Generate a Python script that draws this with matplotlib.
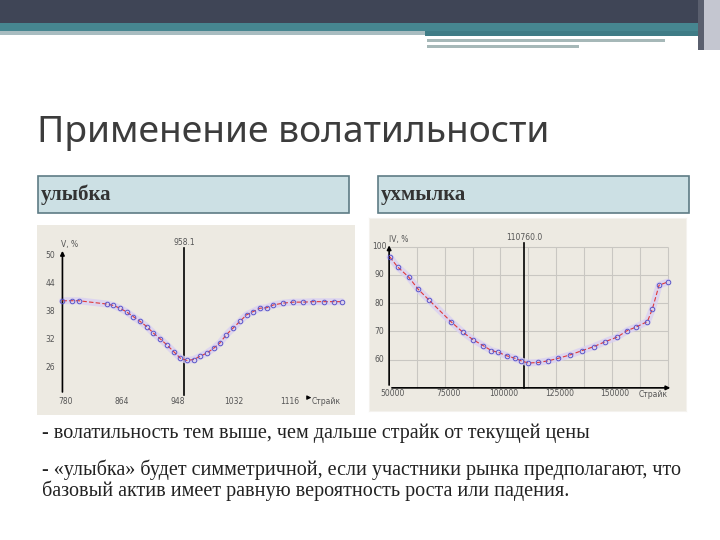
import matplotlib
matplotlib.use("Agg")
import matplotlib.pyplot as plt
from matplotlib.patches import Rectangle

# ---- data: "smile" (left chart)
smile_strike = [776, 790, 800, 842, 852, 862, 872, 882, 892, 902, 912, 922, 932, 942,
                952, 962, 972, 982, 992, 1002, 1011, 1021, 1031, 1041, 1051, 1061,
                1071, 1081, 1091, 1106, 1121, 1136, 1151, 1166, 1181, 1193]
smile_vol = [40.3, 40.3, 40.3, 39.6, 39.3, 38.7, 37.9, 36.9, 35.9, 34.8, 33.4, 32.2,
             30.9, 29.5, 28.1, 27.6, 27.8, 28.5, 29.2, 30.2, 31.3, 33.1, 34.5, 35.9,
             37.3, 38.0, 38.7, 38.8, 39.4, 39.8, 40.0, 40.0, 40.1, 40.1, 40.1, 40.1]
smile_xticks = [780, 864, 948, 1032, 1116]
smile_yticks = [50, 44, 38, 32, 26]
smile_spot = 958.1

# ---- data: "smirk" (right chart)
smirk_strike = [50300, 53765, 58735, 63100, 68070, 77700, 83130, 87650, 92170, 95930,
                98950, 102700, 106480, 109190, 112500, 117000, 121540, 126000, 131300,
                136600, 141860, 147100, 152400, 156900, 160700, 165960, 168200, 171200,
                175000]
smirk_vol = [96.4, 92.9, 89.3, 84.9, 81.0, 73.5, 69.7, 67.1, 65.0, 63.2, 62.6, 61.4,
             60.5, 59.6, 58.8, 59.0, 59.6, 60.5, 61.7, 63.2, 64.6, 66.4, 68.0, 70.3,
             71.5, 73.5, 78.0, 86.4, 87.5]
smirk_xticks = [50000, 75000, 100000, 125000, 150000]
smirk_yticks = [100, 90, 80, 70, 60]
smirk_spot = 110760.0

TITLE = "Применение волатильности"
HEAD_LEFT = "улыбка"
HEAD_RIGHT = "ухмылка"
NOTES = ["- волатильность тем выше, чем дальше страйк от текущей цены",
         "- «улыбка» будет симметричной, если участники рынка предполагают, что",
         "базовый актив имеет равную вероятность роста или падения."]

BEIGE = "#EDEAE2"
SMALL = dict(fontsize=5.5, color="#555555", family="DejaVu Sans")

fig = plt.figure(figsize=(7.2, 5.4), dpi=100)
fig.patch.set_facecolor("white")


def px_axes(x0, y0, x1, y1, z=1):
    return fig.add_axes([x0 / 720, 1 - y1 / 540, (x1 - x0) / 720, (y1 - y0) / 540], zorder=z)


# slide background and decorations
bg = px_axes(0, 0, 720, 540, z=0)
bg.set_xlim(0, 720)
bg.set_ylim(540, 0)
bg.axis("off")
bg.add_patch(Rectangle((0, 0), 720, 23, fc="#3F4556", ec="none"))
bg.add_patch(Rectangle((0, 23), 720, 8, fc="#468690", ec="none"))
bg.add_patch(Rectangle((0, 31), 425, 4, fc="#A8BCC0", ec="none"))
bg.add_patch(Rectangle((425, 31), 280, 5, fc="#3F7C86", ec="none"))
bg.add_patch(Rectangle((427, 39), 238, 3, fc="#A6B8B8", ec="none"))
bg.add_patch(Rectangle((427, 45), 152, 3, fc="#A6B8B8", ec="none"))
bg.add_patch(Rectangle((698, 0), 6, 50, fc="#5A5F6E", ec="none"))
bg.add_patch(Rectangle((704, 0), 16, 50, fc="#C4C6D0", ec="none"))

bg.text(37, 133, TITLE, fontsize=26.8, color="#3C3C3C", family="Noto Sans", va="center")

for x0, label in [(38, HEAD_LEFT), (378, HEAD_RIGHT)]:
    bg.add_patch(Rectangle((x0, 176), 311, 37, fc="#CCE0E4", ec="#5E7C85", lw=1.2))
    bg.text(x0 + 3, 195, label, fontsize=15, fontweight="bold", color="#333333",
            family="Liberation Serif", va="center")

for y, line in zip([433, 470, 491], NOTES):
    bg.text(42, y, line, fontsize=14.5, color="#222222", family="Liberation Serif", va="center")


def draw_curve(ax, xs, ys):
    ax.plot(xs, ys, color="#D9D0F2", lw=5, alpha=0.8, solid_capstyle="round", zorder=2)
    ax.plot(xs, ys, color="#E03A3A", lw=0.8, ls=(0, (4, 2)), zorder=3)
    ax.plot(xs, ys, ls="none", marker="o", ms=3.3, mfc="none", mec="#5A56C8", mew=0.7, zorder=4)


# ---- left chart
axl = px_axes(37, 225, 355, 415)
axl.set_facecolor(BEIGE)
axl.set_xlim(738, 1213)
axl.set_ylim(16.0, 56.4)
axl.set_xticks([])
axl.set_yticks([])
for s in axl.spines.values():
    s.set_visible(False)
axl.annotate("", xy=(776, 51.5), xytext=(776, 20.3),
             arrowprops=dict(arrowstyle="-|>", color="black", lw=1.2, mutation_scale=6))
axl.plot([smile_spot, smile_spot], [20.3, 51.6], color="black", lw=1.2)
axl.text(smile_spot, 52.6, f"{smile_spot:.1f}", ha="center", va="center", **SMALL)
draw_curve(axl, smile_strike, smile_vol)
for t in smile_xticks:
    axl.text(t, 18.8, str(t), ha="center", va="center", **SMALL)
for t in smile_yticks:
    axl.text(758, t, str(t), ha="center", va="center", **SMALL)
axl.text(786, 52.2, "V, %", ha="center", va="center", **SMALL)
axl.annotate("", xy=(1152, 19.7), xytext=(1138, 19.7),
             arrowprops=dict(arrowstyle="-|>", color="black", lw=0.8, mutation_scale=6))
axl.text(1170, 18.8, "Страйк", ha="center", va="center", **SMALL)

# ---- right chart
axr = px_axes(369, 218, 686, 411)
axr.set_facecolor(BEIGE)
axr.set_xlim(40964, 183285)
axr.set_ylim(41.8, 110.2)
axr.set_xticks([])
axr.set_yticks([])
for s in axr.spines.values():
    s.set_color("#F4F2EE")
grid_x = [50000 + 12500 * i for i in range(1, 11)]
grid_y = [60, 70, 80, 90, 100]
axr.vlines(grid_x, 50, 100, color="#C9C7C2", lw=0.8, zorder=1)
axr.hlines(grid_y, 50000, 175000, color="#C9C7C2", lw=0.8, zorder=1)
axr.annotate("", xy=(50000, 101.5), xytext=(50000, 50),
             arrowprops=dict(arrowstyle="-|>", color="black", lw=1.2, mutation_scale=6))
axr.annotate("", xy=(177500, 50), xytext=(50000, 50),
             arrowprops=dict(arrowstyle="-|>", color="black", lw=1.2, mutation_scale=6))
axr.plot([smirk_spot, smirk_spot], [50, 101.3], color="black", lw=1.2, zorder=2)
axr.text(smirk_spot, 103.2, f"{smirk_spot:.1f}", ha="center", va="center", **SMALL)
draw_curve(axr, smirk_strike, smirk_vol)
for t in smirk_xticks:
    axr.text(t + 1500, 48.0, str(t), ha="center", va="center", **SMALL)
for t in smirk_yticks:
    axr.text(45500, t, str(t), ha="center", va="center", **SMALL)
axr.text(54500, 102.6, "IV, %", ha="center", va="center", **SMALL)
axr.text(168500, 47.5, "Страйк", ha="center", va="center", **SMALL)

fig.savefig("out.png", dpi=100)
